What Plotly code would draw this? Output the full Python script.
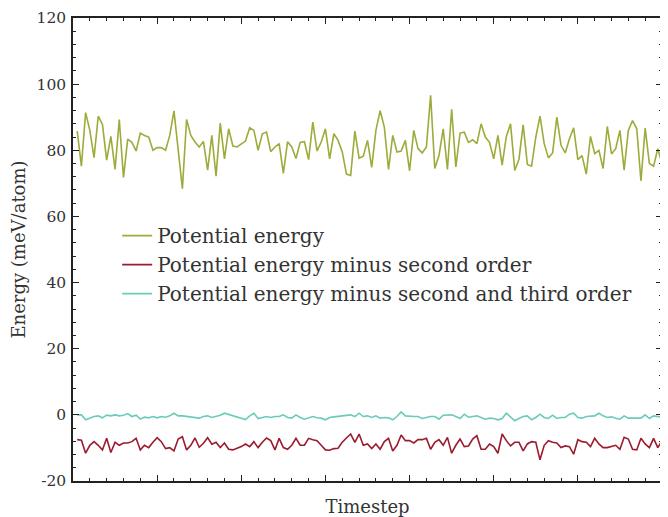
import plotly.graph_objects as go

timestep = list(range(1, 141))

y_tick_values = [-20, 0, 20, 40, 60, 80, 100, 120]
y_tick_labels = ["-20", "0", "20", "40", "60", "80", "100", "120"]

potential = [
    85.8, 75.2, 91.4, 86.0, 77.8, 90.3, 87.8, 77.0, 84.2, 74.2,
    89.3, 71.8, 83.4, 82.4, 79.8, 85.2, 84.5, 84.0, 80.0, 80.8,
    80.8, 80.0, 84.5, 91.9, 80.2, 68.4, 89.3, 84.5, 82.5, 81.0,
    82.7, 74.0, 84.5, 72.2, 88.2, 77.4, 86.5, 81.3, 81.0, 81.8,
    82.8, 86.8, 86.0, 80.0, 85.0, 85.5, 79.6, 81.0, 82.0, 73.0,
    82.6, 81.0, 77.5, 82.4, 82.6, 77.2, 88.5, 79.8, 82.5, 86.5,
    77.4, 85.0, 83.0, 79.5, 72.8, 72.4, 85.8, 77.6, 78.2, 83.0,
    74.8, 86.0, 92.0, 87.0, 74.2, 84.5, 79.5, 79.8, 83.0, 73.8,
    86.0, 80.5, 79.2, 81.0, 96.6, 74.5, 78.5, 86.5, 74.2, 92.4,
    75.0, 85.2, 85.5, 82.4, 83.2, 82.0, 88.0, 84.0, 82.4, 77.4,
    84.5, 75.5, 84.2, 88.0, 73.9, 77.3, 87.7, 75.7, 75.2, 84.0,
    90.3, 82.0, 77.7, 79.2, 90.0, 81.5, 79.2, 83.5, 86.8, 77.2,
    78.4, 72.8, 84.2, 79.0, 80.0, 74.5, 87.2, 78.9, 80.5, 86.0,
    74.0, 86.0, 89.0, 86.5, 70.7, 86.7, 76.0, 75.2, 80.5, 76.0,
]

minus_second = [
    -7.5, -7.7, -11.6, -9.2, -8.1, -9.2, -10.6, -7.1, -11.4, -8.3,
    -9.2, -8.5, -8.5, -8.1, -7.1, -10.6, -9.2, -9.9, -8.3, -6.9,
    -8.1, -10.2, -9.9, -10.9, -7.3, -6.6, -10.6, -9.2, -7.0, -9.8,
    -8.6, -6.9, -8.9, -8.3, -9.9, -8.5, -10.4, -10.6, -10.1, -9.6,
    -8.8, -9.6, -8.1, -9.9, -8.3, -7.0, -7.8, -10.6, -7.1, -9.9,
    -10.4, -9.2, -7.1, -9.2, -9.2, -7.1, -7.5, -7.8, -9.2, -10.6,
    -10.7, -10.2, -10.1, -8.3, -7.0, -5.8, -8.3, -5.8, -9.2, -8.8,
    -10.2, -8.8, -10.4, -8.1, -7.1, -10.9, -9.2, -6.1, -7.8, -7.8,
    -8.5, -7.5, -7.5, -7.1, -10.4, -8.3, -7.5, -9.2, -6.8, -11.6,
    -9.2, -7.3, -9.6, -9.4, -7.3, -6.3, -10.4, -10.4, -8.8, -9.6,
    -11.6, -5.8, -7.8, -9.4, -8.3, -8.3, -10.9, -8.8, -8.1, -8.3,
    -13.6, -9.2, -7.8, -8.3, -8.5, -9.9, -9.4, -9.6, -11.9, -7.5,
    -8.1, -8.3, -9.6, -7.1, -8.8, -9.9, -9.9, -9.6, -9.2, -10.4,
    -6.8, -7.3, -10.4, -10.6, -7.1, -8.8, -9.9, -7.1, -9.9, -7.8,
]

minus_second_third = [
    0.0, 0.0, -1.5, -1.0, -0.5, -0.3, -0.9, -0.1, -0.3, 0.0,
    -0.3, -0.1, 0.4, -0.5, -0.1, -1.3, -0.7, -0.9, -0.5, -0.9,
    -0.5, -0.7, -0.3, 0.5, -0.3, -0.3, -0.5, -0.6, -0.8, -1.0,
    -0.5, -0.3, -0.8, -0.5, -0.1, 0.5, 0.1, -0.3, -0.7, -1.1,
    -1.4, -0.3, 0.5, -1.1, -0.8, -0.5, -0.8, -0.5, -0.5, 0.0,
    -0.8, -1.0, 0.0, -0.8, -1.3, -1.0, -0.5, -0.9, -1.0, -1.5,
    -0.8, -0.6, -0.5, -0.3, -0.1, 0.0, -0.5, 0.5, -0.5, -0.3,
    -0.8, -0.3, -1.0, -0.8, -0.9, -1.5, -0.5, 0.9, -0.3, -0.5,
    -0.5, -0.5, -1.1, -0.8, -0.5, -0.5, -1.3, -0.1, -0.1, 0.0,
    -0.5, -1.1, 0.2, -0.7, -0.5, -0.3, -0.8, -1.3, -1.0, -1.1,
    -1.5, -1.1, 0.5, -0.8, -1.8, -1.1, -0.5, -0.3, -1.5, -0.8,
    0.2, -0.8, -1.1, -0.1, -1.1, -0.8, -0.8, 0.2, 0.5, -0.8,
    -1.0, -0.5, -0.3, -0.3, 0.5, -0.3, -0.8, -0.6, -1.0, -1.3,
    -0.3, -1.0, -1.0, -1.0, -1.0, 0.0, -1.1, -0.3, -0.5, -0.7,
]

series_names = [
    "Potential energy",
    "Potential energy minus second order",
    "Potential energy minus second and third order",
]
series_colors = ["#9eaa3a", "#9b1b2e", "#6ccab9"]

FONT = "DejaVu Serif"

fig = go.Figure()
for name, ys, col in zip(series_names, [potential, minus_second, minus_second_third], series_colors):
    fig.add_trace(go.Scatter(x=timestep, y=ys, mode="lines", name=name,
                             line=dict(color=col, width=1.6)))

axis_common = dict(
    showgrid=False, zeroline=False, showline=True, linecolor="#222", linewidth=1.5,
    mirror="allticks", ticks="inside", tickcolor="#222", tickwidth=1.3, ticklen=6,
    automargin=False,
)

fig.update_layout(
    width=660, height=509,
    margin=dict(l=65, r=6, t=10, b=36),
    paper_bgcolor="white", plot_bgcolor="white",
    font=dict(family=FONT, color="#333", size=16),
    xaxis=dict(range=[0, 140], dtick=20, tick0=0, showticklabels=False,
               title=dict(text="Timestep", font=dict(size=18, family=FONT, color="#333"), standoff=20),
               minor=dict(dtick=4, ticks="inside", ticklen=3, tickcolor="#222", tickwidth=1.2),
               **axis_common),
    yaxis=dict(range=[-20, 120], tickmode="array", tickvals=y_tick_values, ticktext=y_tick_labels,
               ticklabelstandoff=2,
               tickfont=dict(size=15.5, family=FONT, color="#333"),
               title=dict(text="Energy (meV/atom)", font=dict(size=18, family=FONT, color="#333"), standoff=6),
               minor=dict(dtick=4, tick0=0, ticks="inside", ticklen=3, tickcolor="#222", tickwidth=1.2),
               **axis_common),
    legend=dict(x=0.075, y=0.572, xanchor="left", yanchor="top",
                bgcolor="rgba(0,0,0,0)", font=dict(size=20, family=FONT, color="#333"),
                itemwidth=30, tracegroupgap=0),
    showlegend=True,
)

fig.write_html("out.html")
